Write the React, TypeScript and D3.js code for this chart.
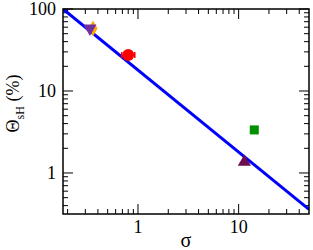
import React from 'react';
import * as d3 from 'd3';

const W = 313;
const H = 250;
const margin = { top: 9, right: 4, bottom: 36, left: 63 };

const xDomain = [0.18, 50];
const yDomain = [0.316, 100];

const majorX = [1, 10];
const majorY = [1, 10, 100];

// fit line: theta = 18 / sigma
const fitLine = [
  { sigma: 0.18, theta: 100 },
  { sigma: 50, theta: 0.36 },
];

const diamondPts = [{ sigma: 0.358, theta: 58 }];
const downTriPts = [{ sigma: 0.333, theta: 58 }];
const circlePts = [{ sigma: 0.8, theta: 27.5, lo: 0.69, hi: 0.93 }];
const squarePts = [{ sigma: 14.3, theta: 3.35 }];
const upTriPts = [{ sigma: 11.4, theta: 1.36 }];

function minorTicks(lo: number, hi: number) {
  const out: number[] = [];
  for (let e = -2; e <= 3; e++) {
    for (let m = 2; m <= 9; m++) {
      const v = m * Math.pow(10, e);
      if (v > lo && v < hi) out.push(v);
    }
  }
  return out;
}

const font = "'Liberation Serif', 'DejaVu Serif', 'Times New Roman', Times, serif";

export default function App() {
  const iw = W - margin.left - margin.right;
  const ih = H - margin.top - margin.bottom;
  const x = d3.scaleLog().domain(xDomain).range([0, iw]);
  const y = d3.scaleLog().domain(yDomain).range([ih, 0]);
  const line = d3
    .line<{ sigma: number; theta: number }>()
    .x((d) => x(d.sigma))
    .y((d) => y(d.theta));

  const minX = minorTicks(xDomain[0], xDomain[1]);
  const minY = minorTicks(yDomain[0], yDomain[1]);
  const tickStroke = { stroke: '#000', strokeWidth: 1 };

  const tri = d3.symbol().type(d3.symbolTriangle).size(75)();
  const diamond = d3.symbol().type(d3.symbolDiamond).size(70)();

  return (
    <svg
      width={W}
      height={H}
      style={{ position: 'absolute', left: 0, top: 0, background: '#fff', fontFamily: font }}
    >
      <defs>
        <clipPath id="plot">
          <rect x={0} y={0} width={iw} height={ih} />
        </clipPath>
      </defs>
      <g transform={`translate(${margin.left},${margin.top})`}>
        {/* x ticks bottom & top */}
        {minX.map((v) => (
          <g key={'mx' + v}>
            <line x1={x(v)} x2={x(v)} y1={ih} y2={ih - 5} {...tickStroke} />
            <line x1={x(v)} x2={x(v)} y1={0} y2={5} {...tickStroke} />
          </g>
        ))}
        {majorX.map((v) => (
          <g key={'Mx' + v}>
            <line x1={x(v)} x2={x(v)} y1={ih} y2={ih - 10} {...tickStroke} />
            <line x1={x(v)} x2={x(v)} y1={0} y2={10} {...tickStroke} />
            <text x={x(v)} y={ih + 19} textAnchor="middle" style={{ fontFamily: font, fontSize: 18 }}>
              {v}
            </text>
          </g>
        ))}
        {/* y ticks left & right */}
        {minY.map((v) => (
          <g key={'my' + v}>
            <line x1={0} x2={5} y1={y(v)} y2={y(v)} {...tickStroke} />
            <line x1={iw} x2={iw - 5} y1={y(v)} y2={y(v)} {...tickStroke} />
          </g>
        ))}
        {majorY.map((v) => (
          <g key={'My' + v}>
            <line x1={0} x2={10} y1={y(v)} y2={y(v)} {...tickStroke} />
            <line x1={iw} x2={iw - 10} y1={y(v)} y2={y(v)} {...tickStroke} />
            <text
              x={-7}
              y={y(v)}
              dy="0.33em"
              textAnchor="end"
              style={{ fontFamily: font, fontSize: 18 }}
            >
              {v}
            </text>
          </g>
        ))}

        <g clipPath="url(#plot)">
          <path d={line(fitLine) || ''} fill="none" stroke="#0000ff" strokeWidth={3} />
        </g>

        {circlePts.map((d, i) => (
          <g key={'c' + i} stroke="#ff0000" strokeWidth={1.5}>
            <line x1={x(d.lo)} x2={x(d.hi)} y1={y(d.theta)} y2={y(d.theta)} />
            <line x1={x(d.lo)} x2={x(d.lo)} y1={y(d.theta) - 3} y2={y(d.theta) + 3} />
            <line x1={x(d.hi)} x2={x(d.hi)} y1={y(d.theta) - 3} y2={y(d.theta) + 3} />
            <circle cx={x(d.sigma)} cy={y(d.theta)} r={6} fill="#ff0000" stroke="none" />
          </g>
        ))}
        {diamondPts.map((d, i) => (
          <path
            key={'d' + i}
            d={diamond || ''}
            transform={`translate(${x(d.sigma)},${y(d.theta)})`}
            fill="#ffa500"
          />
        ))}
        {downTriPts.map((d, i) => (
          <path
            key={'t' + i}
            d={tri || ''}
            transform={`translate(${x(d.sigma)},${y(d.theta)}) rotate(180)`}
            fill="#7030a0"
          />
        ))}
        {squarePts.map((d, i) => (
          <rect
            key={'s' + i}
            x={x(d.sigma) - 4.5}
            y={y(d.theta) - 4.5}
            width={9}
            height={9}
            fill="#009000"
          />
        ))}
        {upTriPts.map((d, i) => (
          <path
            key={'u' + i}
            d={tri || ''}
            transform={`translate(${x(d.sigma)},${y(d.theta)})`}
            fill="#6b0e4e"
          />
        ))}

        <rect x={0} y={0} width={iw} height={ih} fill="none" stroke="#000" strokeWidth={1.5} />

        <text x={iw / 2} y={ih + 33} textAnchor="middle" style={{ fontFamily: font, fontSize: 20 }}>
          σ
        </text>
        <text
          transform={`translate(${-44},${ih / 2 - 8}) rotate(-90)`}
          textAnchor="middle"
          style={{ fontFamily: font, fontSize: 18 }}
        >
          Θ<tspan style={{ fontSize: 12 }} dy={5}>sH</tspan>
          <tspan dy={-5}> (%)</tspan>
        </text>
      </g>
    </svg>
  );
}
